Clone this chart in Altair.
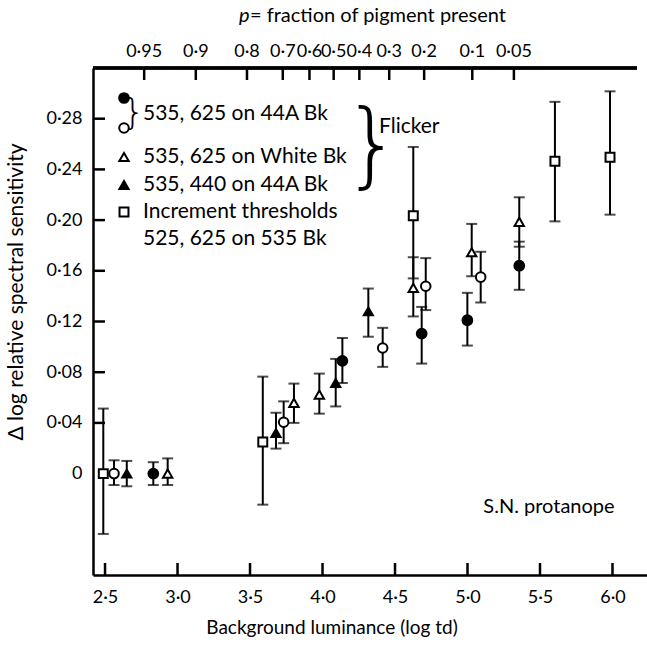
import altair as alt
import pandas as pd

# ---- data ----
fc_x = [2.833, 4.137, 4.684, 4.999, 5.357]
fc_y = [0.0, 0.089, 0.1105, 0.121, 0.164]
fc_lo = [-0.009, 0.0715, 0.0868, 0.101, 0.145]
fc_hi = [0.009, 0.107, 0.1315, 0.1426, 0.183]

oc_x = [2.562, 3.732, 4.415, 4.712, 5.091]
oc_y = [0.0, 0.0405, 0.0991, 0.1478, 0.155]
oc_lo = [-0.009, 0.024, 0.0842, 0.129, 0.135]
oc_hi = [0.0105, 0.057, 0.115, 0.170, 0.175]

ot_x = [2.932, 3.803, 3.978, 4.626, 5.029, 5.357]
ot_y = [0.0, 0.0558, 0.0623, 0.1465, 0.1746, 0.1986]
ot_lo = [-0.009, 0.040, 0.0473, 0.124, 0.1557, 0.179]
ot_hi = [0.012, 0.071, 0.0789, 0.1707, 0.197, 0.218]

ft_x = [2.650, 3.679, 4.091, 4.316]
ft_y = [0.0, 0.032, 0.0715, 0.128]
ft_lo = [-0.01, 0.0197, 0.053, 0.108]
ft_hi = [0.01, 0.048, 0.0905, 0.146]

sq_x = [2.488, 3.588, 4.626, 5.603, 5.983]
sq_y = [0.0, 0.025, 0.2035, 0.2464, 0.2496]
sq_lo = [-0.0476, -0.0245, 0.154, 0.199, 0.2043]
sq_hi = [0.0513, 0.0765, 0.2577, 0.2933, 0.3016]

x_ticks = [2.5, 3.0, 3.5, 4.0, 4.5, 5.0, 5.5, 6.0]
y_labels = [0.0, 0.04, 0.08, 0.12, 0.16, 0.20, 0.24, 0.28]
y_ticks = [0.04, 0.08, 0.12, 0.16, 0.20, 0.24, 0.28]

p_labels = ["0·95", "0·9", "0·8", "0·7", "0·6", "0·5", "0·4", "0·3", "0·2", "0·1", "0·05"]
p_pos = [2.770, 3.126, 3.479, 3.726, 3.910, 4.077, 4.254, 4.460, 4.701, 5.033, 5.320]

series_names = ["fc", "oc", "ot", "ft", "sq"]
series = {
    "fc": (fc_x, fc_y, fc_lo, fc_hi),
    "oc": (oc_x, oc_y, oc_lo, oc_hi),
    "ot": (ot_x, ot_y, ot_lo, ot_hi),
    "ft": (ft_x, ft_y, ft_lo, ft_hi),
    "sq": (sq_x, sq_y, sq_lo, sq_hi),
}
rows = []
for name in series_names:
    xs_, ys_, los, his = series[name]
    for a, b, c, d in zip(xs_, ys_, los, his):
        rows.append({"s": name, "x": a, "y": b, "lo": c, "hi": d})
df = pd.DataFrame(rows)

FONT = "Lato"
W, H = 554, 507
XDOM = [2.417, 6.238]
YDOM = [-0.08, 0.32]

xs = alt.Scale(domain=XDOM, nice=False, zero=False)
ys = alt.Scale(domain=YDOM, nice=False, zero=False)

shape_scale = alt.Scale(domain=series_names,
                        range=["circle", "circle", "triangle-up", "triangle-up", "square"])
fill_scale = alt.Scale(domain=series_names,
                       range=["black", "white", "white", "black", "white"])
size_scale = alt.Scale(domain=series_names, range=[95, 80, 95, 95, 60])

base = alt.Chart(df)

xaxis = alt.Axis(values=x_ticks, ticks=False, tickSize=0, labelPadding=13,
                 labelExpr="replace(format(datum.value, '.1f'), '.', '·')",
                 domainWidth=2.5, domainColor="black", grid=False, title=None,
                 labelFont=FONT, labelFontSize=18, labelColor="black")
yaxis = alt.Axis(values=y_labels, ticks=False, tickSize=0, labelPadding=11,
                 labelExpr="datum.value == 0 ? '0' : replace(format(datum.value, '.2f'), '.', '·')",
                 domainWidth=2.5, domainColor="black", grid=False, title=None,
                 labelFont=FONT, labelFontSize=18, labelColor="black")

bars = base.mark_rule(color="black", strokeWidth=2).encode(
    x=alt.X("x:Q", scale=xs, axis=xaxis),
    y=alt.Y("lo:Q", scale=ys, axis=yaxis),
    y2="hi:Q",
)
cap_lo = base.mark_tick(color="black", orient="horizontal", size=11, thickness=2).encode(
    x=alt.X("x:Q", scale=xs), y=alt.Y("lo:Q", scale=ys))
cap_hi = base.mark_tick(color="black", orient="horizontal", size=11, thickness=2).encode(
    x=alt.X("x:Q", scale=xs), y=alt.Y("hi:Q", scale=ys))

pts = base.mark_point(filled=True, stroke="black", strokeWidth=2, opacity=1).encode(
    x=alt.X("x:Q", scale=xs),
    y=alt.Y("y:Q", scale=ys),
    shape=alt.Shape("s:N", scale=shape_scale, legend=None),
    fill=alt.Fill("s:N", scale=fill_scale, legend=None),
    size=alt.Size("s:N", scale=size_scale, legend=None),
)

# inward ticks
xt_df = pd.DataFrame({"v": x_ticks})
yt_df = pd.DataFrame({"v": y_ticks})
pt_df = pd.DataFrame({"v": p_pos, "lab": p_labels})

xticks_m = alt.Chart(xt_df).mark_rule(color="black", strokeWidth=2.5).encode(
    x=alt.X("v:Q", scale=xs), y=alt.value(H), y2=alt.value(H - 12))
yticks_m = alt.Chart(yt_df).mark_rule(color="black", strokeWidth=2.5).encode(
    y=alt.Y("v:Q", scale=ys), x=alt.value(0), x2=alt.value(12))
pticks_m = alt.Chart(pt_df).mark_rule(color="black", strokeWidth=2.5).encode(
    x=alt.X("v:Q", scale=xs), y=alt.value(0), y2=alt.value(12))
plabels_m = alt.Chart(pt_df).mark_text(font=FONT, fontSize=18, color="black",
                                       baseline="middle").encode(
    x=alt.X("v:Q", scale=xs), y=alt.value(-16), text="lab:N")

top_line = alt.Chart(xt_df).mark_rule(color="black", strokeWidth=2.5).encode(
    x=alt.value(0), x2=alt.value(544), y=alt.value(0))


def txt(s, x, y, size=21, align="left", angle=0, style="normal", weight="normal", font=FONT):
    return alt.Chart(xt_df.head(1)).mark_text(
        text=s, font=font, fontSize=size, align=align, baseline="middle",
        angle=angle, fontStyle=style, fontWeight=weight, color="black",
    ).encode(x=alt.value(x), y=alt.value(y))


# legend markers
leg = pd.DataFrame({
    "s": ["fc", "oc", "ot", "ft", "sq"],
    "px": [31, 31, 31, 31, 31],
    "py": [30, 60, 89, 117, 144],
})
leg_pts = alt.Chart(leg).mark_point(filled=True, stroke="black", strokeWidth=2, opacity=1).encode(
    x=alt.X("px:Q", scale=None),
    y=alt.Y("py:Q", scale=None),
    shape=alt.Shape("s:N", scale=shape_scale, legend=None),
    fill=alt.Fill("s:N", scale=fill_scale, legend=None),
    size=alt.Size("s:N", scale=size_scale, legend=None),
)

texts = [
    txt("535, 625 on 44A Bk", 50, 46),
    txt("535, 625 on White Bk", 50, 89),
    txt("535, 440 on 44A Bk", 50, 117),
    txt("Increment thresholds", 50, 144),
    txt("525, 625 on 535 Bk", 50, 171),
    txt("}", 29, 45, size=36, weight=200, font="DejaVu Sans"),
    txt("}", 250, 80, size=92, weight=200, font="DejaVu Sans"),
    txt("Flicker", 286, 59),
    txt("S.N. protanope", 549 - 93, 439, size=20, align="center"),
    txt("Background luminance (log td)", 239, 560, size=19, align="center"),
    txt("Δ log relative spectral sensitivity", -76, 224, size=21, align="center", angle=270),
    txt("p", 146, -52, size=20, style="italic"),
    txt("= fraction of pigment present", 157, -52, size=20),
]

chart = alt.layer(
    bars, cap_lo, cap_hi, pts,
    xticks_m, yticks_m, pticks_m, plabels_m, top_line,
    leg_pts, *texts,
).resolve_scale(shape="independent", fill="independent", size="independent").properties(
    width=W, height=H,
    autosize=alt.AutoSizeParams(type="none"),
    padding={"left": 93, "top": 68, "right": 0, "bottom": 71},
    background="white",
).configure_view(stroke=None)

chart.save("out.html", embed_options={"renderer": "svg", "actions": False})
